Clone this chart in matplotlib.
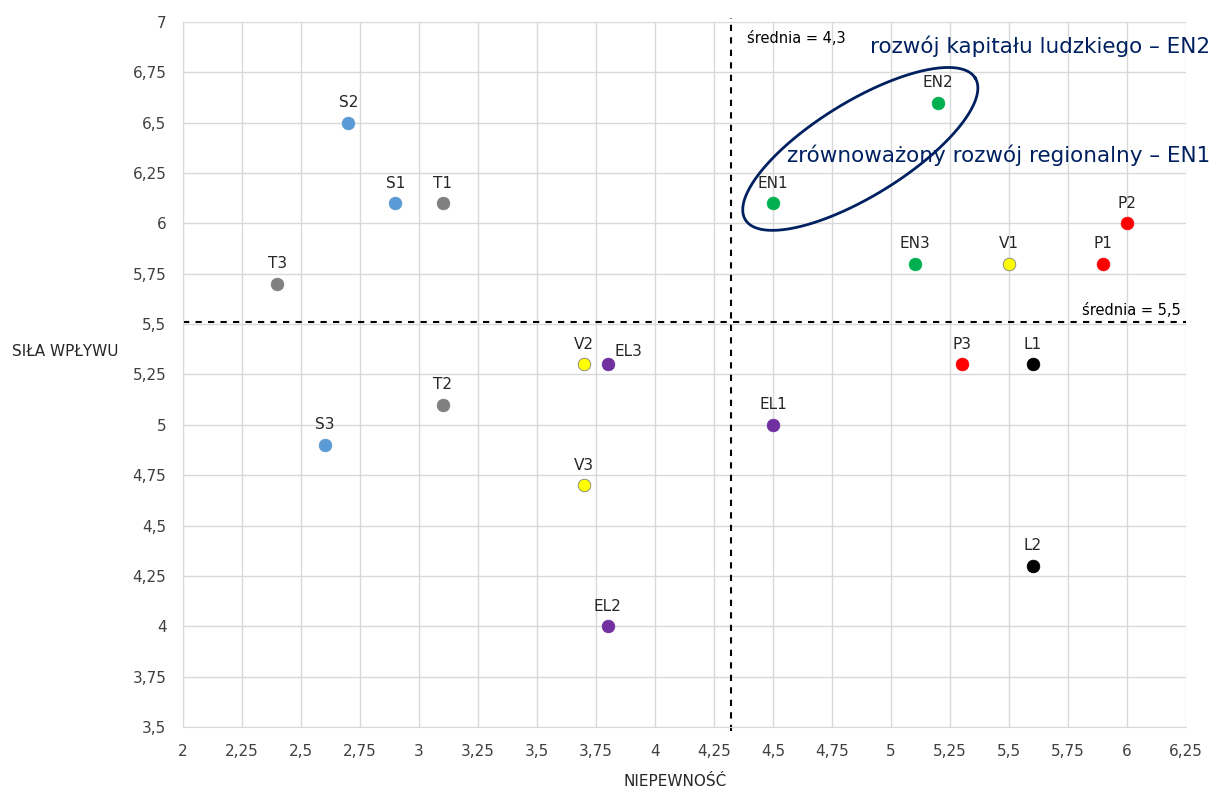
import numpy as np
import matplotlib
matplotlib.use("Agg")
import matplotlib.pyplot as plt

plt.rcParams['font.family'] = ['DejaVu Sans']

# punkty: etykieta, niepewność, siła wpływu
labels = ['S1', 'S2', 'S3', 'T1', 'T2', 'T3', 'V1', 'V2', 'V3',
          'EL1', 'EL2', 'EL3', 'EN1', 'EN2', 'EN3', 'P1', 'P2', 'P3', 'L1', 'L2']
niepewnosc = [2.9, 2.7, 2.6, 3.1, 3.1, 2.4, 5.5, 3.7, 3.7,
              4.5, 3.8, 3.8, 4.5, 5.2, 5.1, 5.9, 6.0, 5.3, 5.6, 5.6]
sila = [6.1, 6.5, 4.9, 6.1, 5.1, 5.7, 5.8, 5.3, 4.7,
        5.0, 4.0, 5.3, 6.1, 6.6, 5.8, 5.8, 6.0, 5.3, 5.3, 4.3]
group_colors = {'S': '#5B9BD5', 'T': '#808080', 'V': '#FFFF00', 'EL': '#7030A0',
                'EN': '#00B050', 'P': '#FF0000', 'L': '#000000'}

mean_x = 4.32
mean_y = 5.51
xticks = np.arange(2, 6.26, 0.25)
yticks = np.arange(3.5, 7.01, 0.25)

def fmt(v):
    s = ('%.2f' % v).rstrip('0').rstrip('.')
    return s.replace('.', ',')

fig = plt.figure(figsize=(12.13, 7.89), dpi=100)
ax = fig.add_axes([0.1509, 0.0786, 0.8268, 0.8935])

for lab, x, y in zip(labels, niepewnosc, sila):
    grp = lab.rstrip('0123456789')
    c = group_colors[grp]
    ec = '#7F7F7F' if grp == 'V' else c
    ax.scatter(x, y, s=82, color=c, edgecolors=ec, linewidths=0.6, zorder=3)
    off = (15, 4) if lab == 'EL3' else (0, 9)  # EL3 odsunięte, jak w oryginale
    ax.annotate(lab, (x, y), xytext=off, textcoords='offset points',
                ha='center', va='bottom', fontsize=11, color='#262626')

# linie średnich
ax.plot([mean_x, mean_x], [3.48, 7.02], ls=(0, (3, 3)), color='black', lw=1.5,
        clip_on=False, zorder=2)
ax.plot([2, 6.25], [mean_y, mean_y], ls=(0, (3, 3)), color='black', lw=1.5, zorder=2)
ax.text(mean_x + 0.07, 6.92, 'średnia = 4,3', fontsize=10.5, color='black', va='center')
ax.text(6.23, mean_y + 0.02, 'średnia = 5,5', fontsize=10.5, color='black',
        ha='right', va='bottom')

# elipsa wokół EN1 / EN2
t = np.linspace(0, 2 * np.pi, 300)
ex = 4.87 + 0.487 * np.cos(t) - 0.105 * np.sin(t)
ey = 6.37 + 0.352 * np.cos(t) + 0.199 * np.sin(t)
ax.plot(ex, ey, color='#002060', lw=2, zorder=2)

ax.text(6.352, 6.88, 'rozwój kapitału ludzkiego – EN2', fontsize=15.5,
        color='#002060', ha='right', va='center', clip_on=False)
ax.text(6.352, 6.34, 'zrównoważony rozwój regionalny – EN1', fontsize=15.5,
        color='#002060', ha='right', va='center', clip_on=False)

ax.set_xlim(2, 6.25)
ax.set_ylim(3.5, 7)
ax.set_xticks(xticks)
ax.set_yticks(yticks)
ax.set_xticklabels([fmt(v) for v in xticks], fontsize=11, color='#404040')
ax.set_yticklabels([fmt(v) for v in yticks], fontsize=11, color='#404040')
ax.tick_params(length=0, pad=12)
ax.grid(True, color='#D9D9D9', lw=1)
ax.set_axisbelow(True)
for side in ['top', 'right']:
    ax.spines[side].set_visible(False)
for side in ['left', 'bottom']:
    ax.spines[side].set_color('#D9D9D9')

fig.text(65 / 1213, 1 - 352 / 789, 'SIŁA WPŁYWU', fontsize=11, ha='center',
         va='center', color='#262626')
fig.text(675 / 1213, 1 - 782 / 789, 'NIEPEWNOŚĆ', fontsize=11, ha='center',
         va='center', color='#262626')

fig.savefig('out.png', dpi=100)
